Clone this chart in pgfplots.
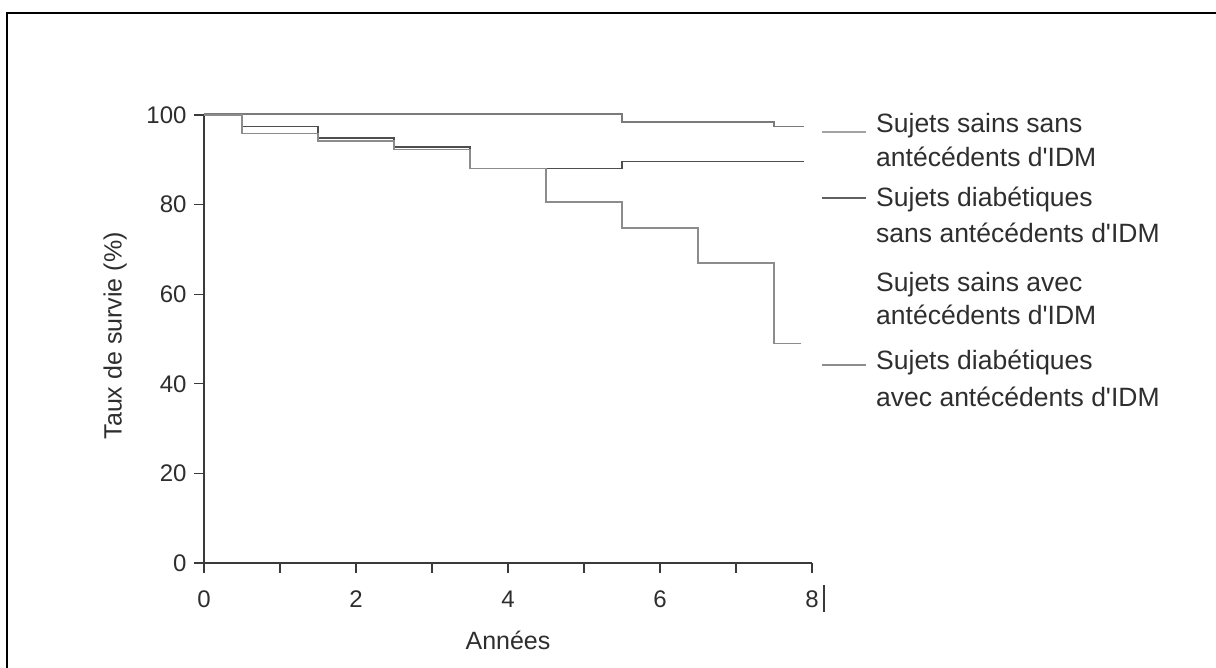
\documentclass[border=0pt]{standalone}
\usepackage{pgfplots}
\pgfplotsset{compat=1.18}
\usepackage{fontspec}
\setmainfont{Liberation Sans}
\definecolor{axisgrey}{HTML}{3A3A3A}
\definecolor{txtgrey}{HTML}{2E2E2E}
\definecolor{cone}{HTML}{7A7A7A}
\definecolor{ctwo}{HTML}{4E4E4E}
\definecolor{cthree}{HTML}{8C8C8C}
\begin{document}
\begin{tikzpicture}
\path[use as bounding box] (0bp,0bp) rectangle (1216bp,668bp);
\draw[black, line width=2.5bp] (7bp,0bp) -- (7bp,655bp) -- (1216bp,655bp);
\begin{axis}[
  at={(204bp,105bp)}, anchor=south west,
  scale only axis, width=608bp, height=448bp,
  xmin=0, xmax=8, ymin=0, ymax=100,
  axis x line*=bottom, axis y line*=left,
  axis line style={axisgrey, line width=1.4bp},
  tick align=outside, major tick length=10bp,
  tick style={axisgrey, line width=1.2bp},
  xtick={0,1,...,8}, xticklabels={0,,2,,4,,6,,8},
  ytick={0,20,...,100},
  /pgf/number format/assume math mode=true,
  ticklabel style={font=\fontsize{24bp}{28bp}\selectfont, text=txtgrey},
  xticklabel style={yshift=-14bp},
  yticklabel style={xshift=-4bp},
  xlabel={Années}, ylabel={Taux de survie (\%)},
  label style={font=\fontsize{25bp}{29bp}\selectfont, text=txtgrey},
  xlabel style={at={(axis description cs:0.5,0)}, anchor=center, yshift=-77bp},
  ylabel style={at={(axis description cs:-0.146,0.507)}, anchor=center},
  clip=false,
]
\addplot[const plot, cone, line width=1.6bp] coordinates {(0,100.2) (5.5,98.5) (7.5,97.4) (7.9,97.4)};
\addplot[const plot, ctwo, line width=1.6bp] coordinates {(0,100) (0.5,97.4) (1.5,94.8) (2.5,92.9) (3.5,88.1) (5.5,89.6) (7.9,89.6)};
\addplot[const plot, cthree, line width=1.4bp] coordinates {(0,100) (0.5,95.9) (1.5,94.2) (2.5,92.3) (3.5,88.1) (4.5,80.6) (5.5,74.8) (6.5,67.0) (7.5,49.0) (7.85,49.0)};
\end{axis}
% leader lines of the key
\draw[cthree!80, line width=1.5bp] (822bp,536bp) -- (866bp,536bp);
\draw[ctwo!90, line width=1.5bp] (822bp,470bp) -- (866bp,470bp);
\draw[cthree, line width=1.5bp] (822bp,303bp) -- (866bp,303bp);
\draw[axisgrey, line width=1.2bp] (824bp,83bp) -- (824bp,56bp);
% key text
\begin{scope}[every node/.style={anchor=base west, inner sep=0pt, text=txtgrey, font=\fontsize{26.5bp}{30bp}\selectfont}]
\node at (876bp,535bp) {Sujets sains sans};
\node at (876bp,501bp) {antécédents d\textquotesingle IDM};
\node at (876bp,461bp) {Sujets diabétiques};
\node at (876bp,425bp) {sans antécédents d\textquotesingle IDM};
\node at (876bp,376bp) {Sujets sains avec};
\node at (876bp,343bp) {antécédents d\textquotesingle IDM};
\node at (876bp,298bp) {Sujets diabétiques};
\node at (876bp,261bp) {avec antécédents d\textquotesingle IDM};
\end{scope}
\end{tikzpicture}
\end{document}
